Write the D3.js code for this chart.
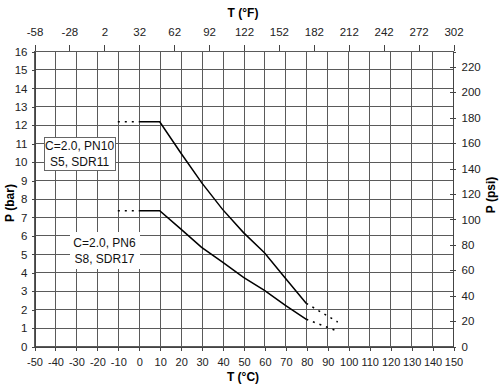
<!DOCTYPE html>
<html><head><meta charset="utf-8">
<script src="https://cdn.jsdelivr.net/npm/d3@7"></script>
<style>
body{margin:0;background:#fff;}
svg text{font-family:"Liberation Sans",Arial,sans-serif;}
</style></head>
<body><svg id="c" width="500" height="390"></svg>
<script>
// Data
const tempC = [0, 10, 20, 30, 40, 50, 60, 70, 80];
const pn10 = [12.16, 12.16, 10.48, 8.86, 7.41, 6.15, 5.06, 3.67, 2.31];
const pn6 = [7.34, 7.34, 6.35, 5.35, 4.55, 3.72, 3.02, 2.2, 1.45];
const pn10DotLeft = [[-10, 12.16], [0, 12.16]];
const pn10DotRight = [[80, 2.31], [95, 1.3]];
const pn6DotLeft = [[-10, 7.34], [0, 7.34]];
const pn6DotRight = [[80, 1.45], [95, 0.8]];
const xTicksC = d3.range(-50, 151, 10);
const xTicksF = d3.range(-58, 303, 30);
const yTicksBar = d3.range(0, 17, 1);
const yTicksPsi = d3.range(0, 221, 20);
const labels = [
  {lines: ["C=2.0, PN10", "S5, SDR11"], border: true},
  {lines: ["C=2.0, PN6", "S8, SDR17"], border: false}
];

const svg = d3.select("#c");
const L = 34, R = 453, T = 51, B = 346;
const x = d3.scaleLinear().domain([-50, 150]).range([L, R]);
const xF = d3.scaleLinear().domain([-58, 302]).range([L, R]);
const y = d3.scaleLinear().domain([0, 16]).range([B, T]);
const yPsi = d3.scaleLinear().domain([0, 16 * 14.5038]).range([B, T]);
const fmt = d => String(d);

const gridColor = "#5a5a5a";
// grid
const g = svg.append("g").attr("shape-rendering", "crispEdges");
g.selectAll(".vg").data(xTicksC).join("line")
  .attr("x1", d => Math.round(x(d)) + 0.5).attr("x2", d => Math.round(x(d)) + 0.5)
  .attr("y1", T).attr("y2", B).attr("stroke", gridColor);
g.selectAll(".hg").data(yTicksBar).join("line")
  .attr("x1", L).attr("x2", R)
  .attr("y1", d => Math.round(y(d)) + 0.5).attr("y2", d => Math.round(y(d)) + 0.5)
  .attr("stroke", gridColor);

// axes
const axB = d3.axisBottom(x).tickValues(xTicksC).tickFormat(fmt).tickSize(4).tickPadding(8);
const gB = svg.append("g").attr("transform", `translate(0.5,${B + 0.5})`).call(axB);
const axT = d3.axisTop(xF).tickValues(xTicksF).tickFormat(fmt).tickSize(6).tickPadding(9);
const gT = svg.append("g").attr("transform", `translate(0.5,${T - 0.5})`).call(axT);
gT.select(".domain").remove();
const axL = d3.axisLeft(y).tickValues(yTicksBar).tickFormat(fmt).tickSize(3).tickPadding(4);
const gL = svg.append("g").attr("transform", `translate(${L + 0.5},0.5)`).call(axL);
const axR = d3.axisRight(yPsi).tickValues(yTicksPsi).tickFormat(fmt).tickSize(3).tickPadding(6);
const gR = svg.append("g").attr("transform", `translate(${R - 0.5},0.5)`).call(axR);
gR.selectAll(".tick line").attr("x1", -3);
[gB, gT, gL, gR].forEach(a => {
  a.attr("shape-rendering", "crispEdges");
  a.selectAll("text").attr("font-size", 11.5).attr("fill", "#222")
    .attr("font-family", "'Liberation Sans',Arial,sans-serif");
  a.selectAll("line").attr("stroke", "#444");
  a.select(".domain").attr("stroke", "#444");
});
gB.selectAll("text").attr("font-size", 11);

// axis titles
svg.append("text").attr("x", 243).attr("y", 17).attr("text-anchor", "middle")
  .attr("font-size", 12).attr("font-weight", "bold").text("T (°F)");
svg.append("text").attr("x", 243).attr("y", 381).attr("text-anchor", "middle")
  .attr("font-size", 12).attr("font-weight", "bold").text("T (°C)");
svg.append("text").attr("transform", "translate(14,203) rotate(-90)").attr("text-anchor", "middle")
  .attr("font-size", 12).attr("font-weight", "bold").text("P (bar)");
svg.append("text").attr("transform", "translate(495,195) rotate(-90)").attr("text-anchor", "middle")
  .attr("font-size", 12).attr("font-weight", "bold").text("P (psi)");

// curves
const line = d3.line().x(d => x(d[0])).y(d => y(d[1]));
const drawSolid = vals => svg.append("path").datum(tempC.map((t, i) => [t, vals[i]]))
  .attr("d", line).attr("fill", "none").attr("stroke", "#000").attr("stroke-width", 1.5);
drawSolid(pn10);
drawSolid(pn6);
[pn10DotLeft, pn10DotRight, pn6DotLeft, pn6DotRight].forEach(seg => {
  svg.append("path").datum(seg).attr("d", line).attr("fill", "none")
    .attr("stroke", "#000").attr("stroke-width", 1.5).attr("stroke-dasharray", "2,5");
});

// annotations
const boxes = [
  {x0: -45, y0: 11.36, x1: -11.5, y1: 9.56},
  {x0: -33, y0: 6.2, x1: 0.3, y1: 4.2}
];
labels.forEach((lab, i) => {
  const b = boxes[i];
  svg.append("rect").attr("x", x(b.x0) + 0.5).attr("y", y(b.y0) + 0.5)
    .attr("width", x(b.x1) - x(b.x0)).attr("height", y(b.y1) - y(b.y0))
    .attr("fill", "#fff").attr("stroke", lab.border ? "#666" : "none")
    .attr("shape-rendering", "crispEdges");
  const cx = (x(b.x0) + x(b.x1)) / 2;
  const cy = (y(b.y0) + y(b.y1)) / 2;
  lab.lines.forEach((t, j) => {
    svg.append("text").attr("x", cx).attr("y", cy + (j - 0.5) * 16 + 4.5)
      .attr("text-anchor", "middle").attr("font-size", 12).attr("fill", "#111").text(t);
  });
});
</script></body></html>
